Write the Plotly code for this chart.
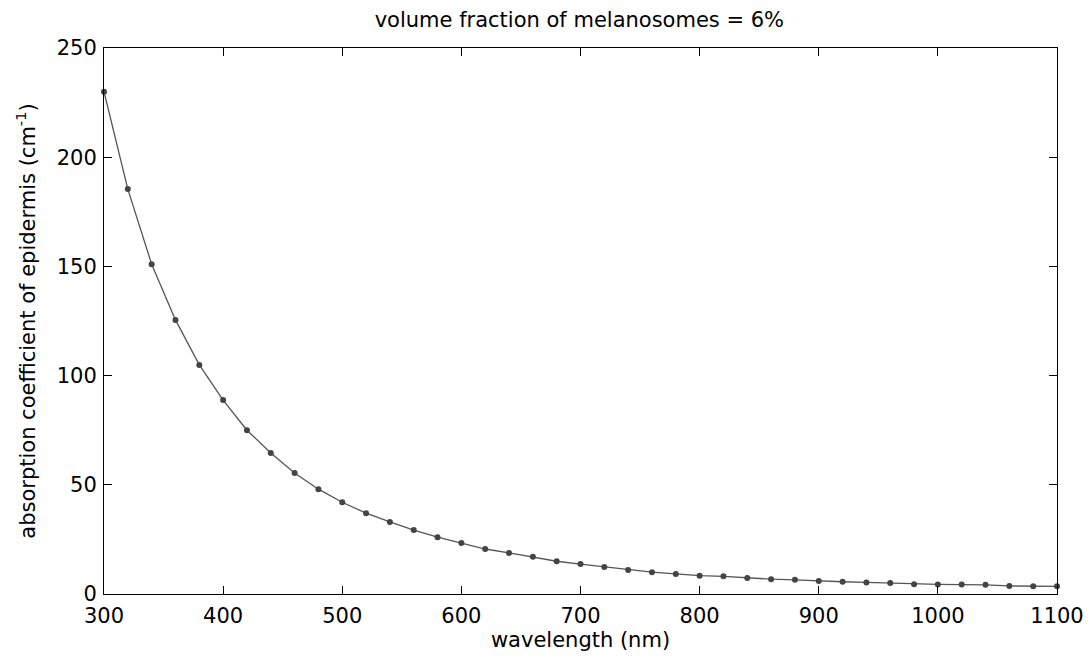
import plotly.graph_objects as go

wavelength = list(range(300, 1101, 20))
absorption = [230, 185.4, 151, 125.5, 104.9, 88.8, 75, 64.6, 55.4, 48,
              42, 37, 33, 29.3, 26, 23.3, 20.6, 18.8, 17, 15,
              13.7, 12.4, 11, 10, 9.2, 8.4, 8.1, 7.3, 6.8, 6.5,
              5.9, 5.6, 5.3, 5.0, 4.5, 4.4, 4.3, 4.2, 3.7, 3.6, 3.5]
x_ticks = [300, 400, 500, 600, 700, 800, 900, 1000, 1100]
y_ticks = [0, 50, 100, 150, 200, 250]

font = "DejaVu Sans, sans-serif"
fs = 21

fig = go.Figure()
fig.add_trace(go.Scatter(
    x=wavelength, y=absorption, mode="lines+markers",
    line=dict(color="#555555", width=1.3),
    marker=dict(color="#444444", size=6, symbol="circle"),
    showlegend=False, cliponaxis=False,
))

axis_common = dict(
    showgrid=False, zeroline=False, showline=True, linecolor="black", linewidth=1,
    mirror="ticks", ticks="inside", ticklen=8, tickcolor="black", tickwidth=1,
    tickfont=dict(family=font, size=fs, color="black"), automargin=False,
)
fig.update_xaxes(range=[300, 1100], tickvals=x_ticks, ticklabelstandoff=3,
                 title=dict(text="wavelength (nm)", font=dict(family=font, size=fs, color="black"), standoff=5),
                 **axis_common)
fig.update_yaxes(range=[0, 250], tickvals=y_ticks, ticklabelstandoff=2,
                 title=dict(text="absorption coefficient of epidermis (cm<sup>-1</sup>)",
                            font=dict(family=font, size=fs, color="black"), standoff=15),
                 **axis_common)
fig.update_layout(
    width=1088, height=662,
    margin=dict(l=104, r=31, t=48, b=68),
    paper_bgcolor="white", plot_bgcolor="white",
    title=dict(text="volume fraction of melanosomes = 6%", x=0.5325, xanchor="center",
               y=1 - 20 / 662, yanchor="middle",
               font=dict(family=font, size=fs, color="black")),
)
fig.write_html("out.html")
